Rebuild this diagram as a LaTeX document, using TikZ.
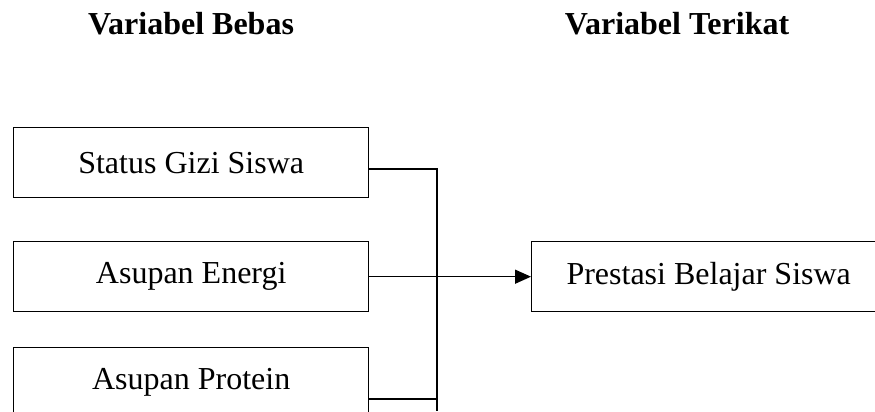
\documentclass[tikz,border=0pt]{standalone}
\usepackage{fontspec}
\setmainfont{Liberation Serif}
\usetikzlibrary{arrows.meta}
\tikzset{
  varbox/.style={draw=black, line width=1.4pt, minimum width=355pt, minimum height=70pt, inner sep=0pt, font=\fontsize{32}{38}\selectfont},
  title/.style={anchor=base, inner sep=0pt, font=\fontsize{32}{38}\selectfont\bfseries},
  conn/.style={draw=black, line width=1.4pt},
  arr/.style={conn, -{Triangle[length=16pt,width=14pt]}}
}
\begin{document}
\begin{tikzpicture}[x=1pt,y=1pt]
\useasboundingbox (0,0) rectangle (875,412);
\clip (0,0) rectangle (875,412);
\node[title] (tb) at (191,377) {Variabel Bebas};
\node[title] (tt) at (677,377) {Variabel Terikat};
\node[varbox, anchor=north west] (b1) at (13,285) {Status Gizi Siswa};
\node[varbox, anchor=north west] (b2) at (13,171) {Asupan Energi};
\node[varbox, anchor=north west] (b3) at (13,65) {Asupan Protein};
\node[varbox, anchor=north west, minimum width=354pt] (tgt) at (531,171) {Prestasi Belajar Siswa};
\coordinate (j1) at (437,243);
\coordinate (j3) at (437,13);
\coordinate (jend) at (437,1);
\draw[conn] (b1.east |- j1) -- (j1) -- (jend);
\draw[conn] (b3.east |- j3) -- (j3);
\draw[arr] (b2.east) -- (tgt.west);
\end{tikzpicture}
\end{document}
